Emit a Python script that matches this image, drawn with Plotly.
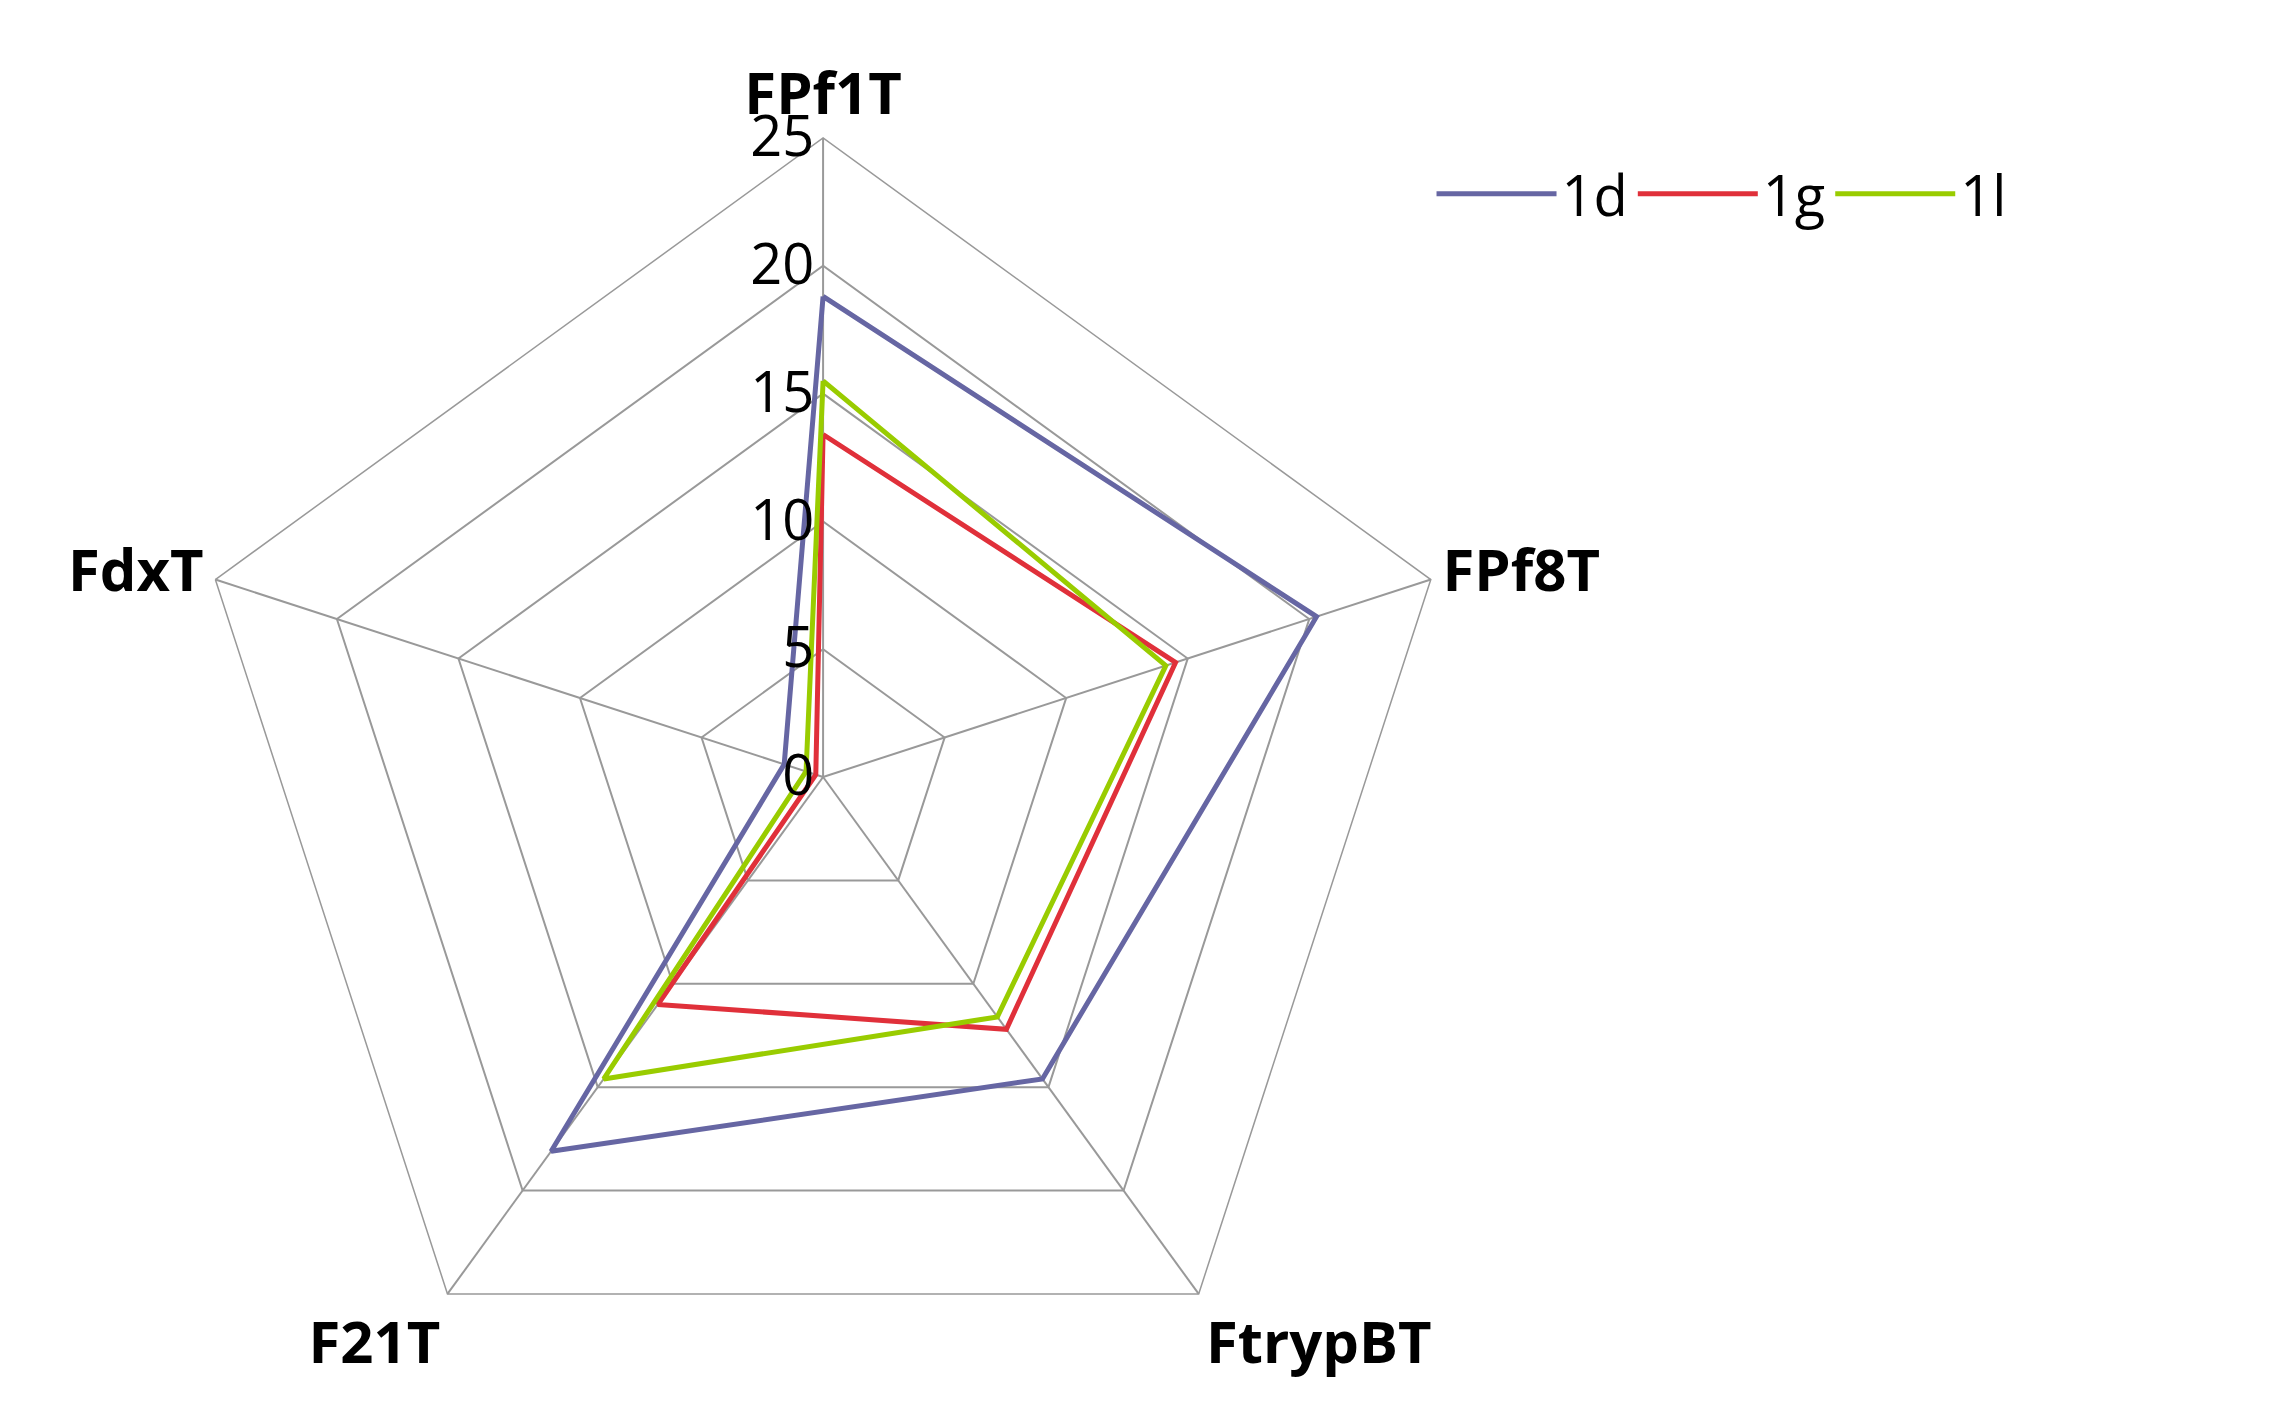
import plotly.graph_objects as go

categories = ["FPf1T", "FPf8T", "FtrypBT", "F21T", "FdxT"]
s1d = [18.8, 20.3, 14.6, 18.1, 1.6]
s1g = [13.4, 14.5, 12.2, 11.0, 0.3]
s1l = [15.5, 14.1, 11.6, 14.6, 0.7]
names = ["1d", "1g", "1l"]
colors = ["#6666A3", "#E0303A", "#99CC00"]

fig = go.Figure()
for n, v, c in zip(names, [s1d, s1g, s1l], colors):
    fig.add_trace(go.Scatterpolar(r=v + v[:1], theta=categories + categories[:1], mode="lines",
                                  name=n, line=dict(color=c, width=5)))

fig.update_layout(
    width=2296, height=1408, paper_bgcolor="white", plot_bgcolor="white",
    margin=dict(l=0, r=0, t=130, b=0),
    font=dict(family="Open Sans, DejaVu Sans", color="black"),
    polar=dict(
        domain=dict(x=[0.075, 0.635], y=[0, 1]),
        bgcolor="white", gridshape="linear",
        angularaxis=dict(rotation=90, direction="clockwise", gridcolor="#999999", gridwidth=1.5,
                         linecolor="#999999", linewidth=1.5, showline=True,
                         tickfont=dict(size=58, family="Open Sans", weight="bold"), ticks=""),
        radialaxis=dict(range=[0, 25], tickvals=[0, 5, 10, 15, 20, 25], angle=90, tickangle=90,
                        side="counterclockwise", showline=False, gridcolor="#999999", gridwidth=1.5,
                        tickfont=dict(size=56), ticks=""),
    ),
    legend=dict(orientation="h", x=0.62, y=0.99, xanchor="left", yanchor="top",
                font=dict(size=56), itemwidth=120, tracegroupgap=30),
)
fig.write_html("out.html")
